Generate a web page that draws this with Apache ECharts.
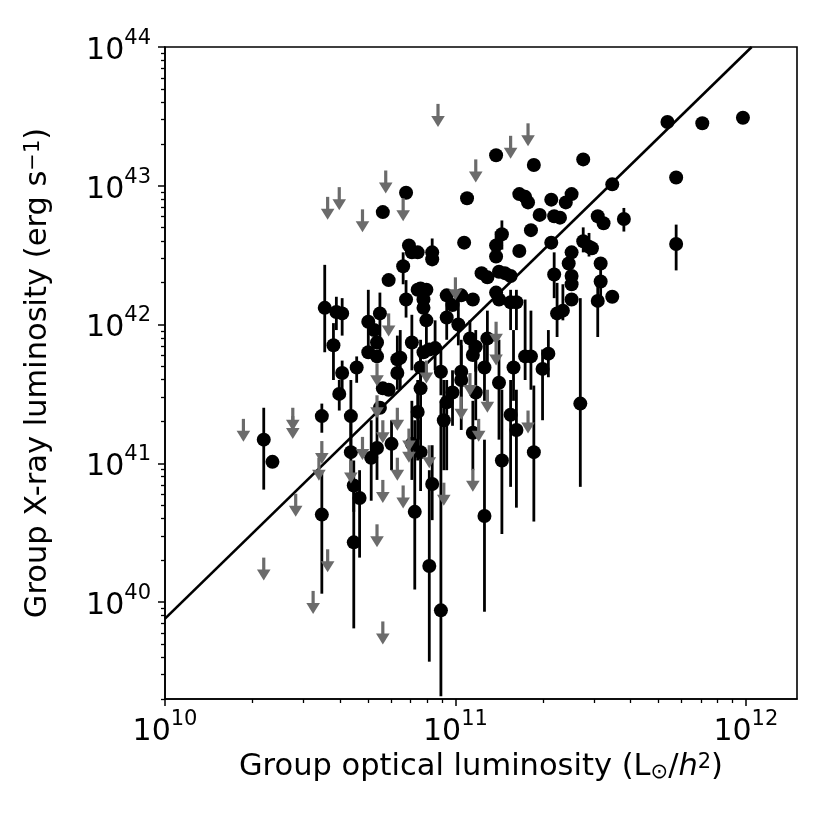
<!DOCTYPE html>
<html>
<head>
<meta charset="utf-8">
<script src="https://cdn.jsdelivr.net/npm/echarts@6/dist/echarts.min.js"></script>
<style>
  html, body { margin: 0; padding: 0; background: #fff; }
  #chart { width: 830px; height: 830px; }
</style>
</head>
<body>
<div id="chart"></div>
<script>
// detected groups: log10 of optical luminosity, X-ray luminosity and its error range
const detLogLopt = [
  11.99, 11.85, 11.73, 11.76, 11.54, 11.44, 11.40, 11.38, 11.36, 11.49,
  11.51, 11.58, 11.76, 11.44, 11.46, 11.47, 11.40, 11.39, 11.40, 11.50,
  11.50, 11.49, 11.54, 11.40, 11.14, 11.27, 11.04, 10.83, 10.75, 11.22,
  11.24, 11.25, 11.33, 11.29, 11.34, 11.26, 11.33, 11.03, 11.16, 11.14,
  11.14, 11.22, 10.84, 10.85, 10.87, 10.92, 10.92, 10.82, 10.77, 11.09,
  11.11, 11.15, 11.17, 11.19, 11.34, 11.40, 11.35, 11.37, 10.83, 10.88,
  10.90, 10.89, 10.89, 10.90, 10.97, 10.99, 10.97, 11.02, 11.06, 11.01,
  11.05, 11.07, 11.06, 11.11, 11.14, 11.15, 11.19, 11.21, 10.85, 10.89,
  10.91, 10.93, 10.81, 10.88, 10.95, 11.02, 11.02, 11.10, 11.15, 11.20,
  11.24, 11.26, 11.30, 11.32, 10.99, 10.97, 10.88, 10.87, 11.07, 11.19,
  11.21, 10.96, 11.06, 11.43, 11.27, 11.16, 10.85, 10.88, 10.92, 10.86,
  10.91, 10.95, 11.10, 10.34, 10.37, 10.54, 10.54, 10.55, 10.59, 10.61,
  10.58, 10.61, 10.60, 10.66, 10.64, 10.64, 10.65, 10.67, 10.65, 10.70,
  10.72, 10.74, 10.73, 10.70, 10.73, 10.80, 10.80, 10.75, 10.77, 10.74,
  10.78, 10.73, 10.71, 10.87
];
const detLogLx = [
  43.49, 43.45, 43.46, 43.06, 43.01, 43.19, 42.94, 42.88, 42.77, 42.78,
  42.73, 42.76, 42.58, 42.60, 42.56, 42.55, 42.52, 42.44, 42.35, 42.44,
  42.31, 42.17, 42.20, 42.18, 43.22, 43.15, 42.91, 42.95, 42.81, 42.94,
  42.92, 42.88, 42.90, 42.79, 42.78, 42.68, 42.59, 42.59, 42.65, 42.57,
  42.49, 42.53, 42.57, 42.52, 42.52, 42.52, 42.47, 42.42, 42.32, 42.37,
  42.34, 42.38, 42.37, 42.35, 42.36, 42.29, 42.08, 42.10, 42.18, 42.26,
  42.25, 42.18, 42.12, 42.03, 42.21, 42.14, 42.05, 42.21, 42.18, 42.00,
  41.90, 41.84, 41.78, 41.90, 42.23, 42.18, 42.16, 42.16, 41.87, 41.80,
  41.82, 41.83, 41.76, 41.69, 41.66, 41.66, 41.60, 41.69, 41.58, 41.69,
  41.77, 41.77, 41.68, 41.79, 41.51, 41.44, 41.54, 41.37, 41.51, 41.35,
  41.24, 41.31, 41.22, 41.43, 41.08, 41.02, 41.14, 41.08, 40.85, 40.65,
  40.26, 39.94, 40.62, 41.17, 41.01, 41.34, 40.63, 42.12, 42.09, 42.08,
  41.85, 41.65, 41.50, 41.69, 41.34, 41.08, 40.84, 40.75, 40.43, 42.02,
  41.96, 42.08, 41.87, 41.80, 41.77, 41.75, 41.65, 41.54, 41.53, 41.40,
  41.14, 41.11, 41.04, 42.25
];
const detLogLxLo = [
  null, null, null, null, null, null, null, null, null, null,
  null, 42.67, 42.39, 42.52, 42.49, null, null, null, null, null,
  42.18, 41.91, null, null, null, null, null, null, null, null,
  null, null, null, null, null, null, null, null, 42.54, 42.45,
  null, null, null, null, null, 42.42, null, 42.29, null, null,
  null, null, null, null, 42.19, null, 41.91, 42.03, 42.05, null,
  null, null, null, 41.85, null, null, 41.89, null, null, 41.85,
  41.74, 41.66, null, 41.67, null, null, 41.96, 41.96, 41.67, null,
  null, 41.67, 41.53, 41.49, 41.49, 41.38, 41.24, 41.45, 41.17, 41.45,
  41.60, 41.53, 41.31, 41.62, 41.27, 40.95, 41.17, 41.02, 41.31, 40.83,
  40.68, 40.95, 40.95, 40.83, 40.58, 40.49, 40.88, 40.80, 40.59, 40.09,
  39.57, 39.32, 39.93, 40.81, null, 41.22, 40.06, 41.80, 41.96, 41.92,
  41.60, 41.53, 41.38, 41.58, 41.12, 40.88, 40.65, 40.32, 39.81, 41.84,
  null, 41.76, null, null, null, 41.53, null, null, null, null,
  40.95, 40.88, 40.73, null
];
const detLogLxHi = [
  null, null, null, null, null, null, null, null, null, null,
  null, 42.84, 42.72, 42.70, 42.66, null, null, null, null, null,
  42.43, 42.31, null, null, null, null, null, null, null, null,
  null, null, null, null, null, null, null, null, 42.75, 42.67,
  null, null, null, null, null, 42.62, null, 42.52, null, null,
  null, null, null, null, 42.52, null, 42.30, 42.29, 42.32, null,
  null, null, null, 42.18, null, null, 42.21, null, null, 42.18,
  42.03, 41.96, null, 42.10, null, null, 42.25, 42.25, 42.07, null,
  null, 42.03, 41.96, 41.89, 41.82, 41.85, 41.89, 41.89, 41.89, 41.96,
  42.18, 42.10, 41.82, 41.96, 41.67, 41.60, 41.82, 41.60, 41.74, 41.60,
  41.53, 41.60, 41.45, 42.19, 41.56, 41.53, 41.45, 41.31, 41.13, 41.31,
  40.95, 41.45, 41.17, 41.40, null, 41.43, 40.95, 42.43, 42.20, 42.19,
  42.01, 41.74, 41.60, 41.77, 41.60, 41.31, 41.02, 40.95, 40.88, 42.25,
  null, 42.23, null, null, null, 41.92, null, null, null, null,
  41.31, 41.35, 41.31, null
];

// upper limits (grey arrows): log10 optical luminosity, log10 X-ray limit
const limLogLopt = [
  10.27, 10.44, 10.44, 10.45, 10.34, 10.51, 10.56, 10.54, 10.53, 10.75,
  10.73, 10.75, 10.82, 10.96, 11.06, 10.91, 10.84, 10.77, 10.73, 10.73,
  10.80, 10.75, 10.68, 10.64, 10.80, 10.84, 11.00, 11.14, 11.14, 10.90,
  11.05, 11.02, 11.11, 11.08, 11.25, 10.76, 10.60, 10.56, 10.68, 10.82,
  10.94, 11.07, 11.19, 11.25
];
const limLogLx = [
  41.32, 41.40, 41.34, 40.78, 40.32, 40.08, 40.38, 41.16, 41.04, 39.86,
  40.56, 40.88, 40.84, 40.86, 40.96, 41.13, 41.17, 42.08, 41.72, 41.49,
  41.40, 41.31, 41.19, 41.02, 41.04, 41.25, 42.34, 42.02, 41.87, 41.74,
  41.65, 41.48, 41.53, 41.32, 41.38, 43.11, 42.99, 42.92, 42.83, 42.91,
  43.59, 43.19, 43.36, 43.45
];

// fitted relation, end points (log10)
const fitLogLopt = [10.0, 12.02];
const fitLogLx = [39.88, 44.0];

// axes
const xRange = [1e10, 1.5e12];
const yRange = [2e39, 1e44];
const xMajorTicks = [1e10, 1e11, 1e12];
const yMajorTicks = [1e40, 1e41, 1e42, 1e43, 1e44];
const minorMantissas = [2, 3, 4, 5, 6, 7, 8, 9];
const xDecades = [1e10, 1e11, 1e12];
const yDecades = [1e39, 1e40, 1e41, 1e42, 1e43];

// minor tick positions, as log10 values for the helper (linear) axes
const minorTicksLog = (decades, range) => {
  const out = [];
  decades.forEach(d => minorMantissas.forEach(m => {
    const v = m * d;
    if (v >= range[0] && v <= range[1]) out.push(Math.log10(v));
  }));
  return out;
};

const FONT = 'DejaVu Sans';
const GREY = '#6b6b6b';

const pts = detLogLopt.map((x, i) => [Math.pow(10, x), Math.pow(10, detLogLx[i])]);
const bars = [];
detLogLopt.forEach((x, i) => {
  if (detLogLxLo[i] !== null) {
    bars.push([Math.pow(10, x), Math.pow(10, detLogLxLo[i]), Math.pow(10, detLogLxHi[i])]);
  }
});
const lims = limLogLopt.map((x, i) => [Math.pow(10, x), Math.pow(10, limLogLx[i])]);
const fit = fitLogLopt.map((x, i) => [Math.pow(10, x), Math.pow(10, fitLogLx[i])]);

const powLabel = v => '{b|10}{e|' + Math.round(Math.log10(v)) + '}';
const tickRich = {
  b: { fontFamily: FONT, fontSize: 30, color: '#000', padding: [8, 0, 0, 0] },
  e: { fontFamily: FONT, fontSize: 21, color: '#000', verticalAlign: 'top' }
};
const nameRich = {
  n: { fontFamily: FONT, fontSize: 30.5, color: '#000' },
  i: { fontFamily: FONT, fontSize: 30.5, color: '#000', fontStyle: 'italic' },
  sup: { fontFamily: FONT, fontSize: 21, color: '#000', verticalAlign: 'top' },
  sub: { fontFamily: FONT, fontSize: 21, color: '#000', verticalAlign: 'bottom' }
};

const gridBox = { left: 165, right: 33, top: 47, bottom: 131 };
const ec = echarts.init(document.getElementById('chart'));

// second, identical grid in log10 units whose axes only carry the minor ticks
const minorAxis = (range, decades, pos) => {
  const ticks = minorTicksLog(decades, range);
  return {
    type: 'value', gridIndex: 1, position: pos,
    min: Math.log10(range[0]), max: Math.log10(range[1]),
    axisLine: { show: false },
    axisTick: { show: true, customValues: ticks, length: 4, lineStyle: { color: '#000', width: 1.3 } },
    axisLabel: { show: true, customValues: ticks, formatter: () => '' },
    splitLine: { show: false }
  };
};

ec.setOption({
  animation: false,
  backgroundColor: '#fff',
  grid: [
    Object.assign({ show: true, borderColor: '#000', borderWidth: 1.6, outerBoundsMode: 'none' }, gridBox),
    Object.assign({ show: false, outerBoundsMode: 'none' }, gridBox)
  ],
  xAxis: [
    {
      type: 'log', logBase: 10, gridIndex: 0, min: xRange[0], max: xRange[1],
      axisLine: { show: true, lineStyle: { color: '#000', width: 1.6 } },
      axisTick: { show: true, customValues: xMajorTicks, length: 7, lineStyle: { color: '#000', width: 1.5 } },
      axisLabel: { customValues: xMajorTicks, formatter: powLabel, rich: tickRich, margin: 10 },
      splitLine: { show: false },
      name: '{n|Group optical luminosity (L}{sub|⊙}{n|/}{i|h}{sup|2}{n|)}',
      nameLocation: 'middle', nameGap: 50,
      nameTextStyle: { rich: nameRich }
    },
    minorAxis(xRange, xDecades, 'bottom')
  ],
  yAxis: [
    {
      type: 'log', logBase: 10, gridIndex: 0, min: yRange[0], max: yRange[1],
      axisLine: { show: true, lineStyle: { color: '#000', width: 1.6 } },
      axisTick: { show: true, customValues: yMajorTicks, length: 7, lineStyle: { color: '#000', width: 1.5 } },
      axisLabel: { customValues: yMajorTicks, formatter: powLabel, rich: tickRich, margin: 14 },
      splitLine: { show: false },
      name: '{n|Group X-ray luminosity (erg s}{sup|−1}{n|)}',
      nameLocation: 'middle', nameGap: 111,
      nameTextStyle: { rich: nameRich }
    },
    minorAxis(yRange, yDecades, 'left')
  ],
  series: [
    {
      type: 'line', data: fit, symbol: 'none', z: 2,
      lineStyle: { color: '#000', width: 2.6 }
    },
    {
      type: 'custom', data: bars, z: 3, encode: { x: 0, y: [1, 2] },
      renderItem: (params, api) => {
        const a = api.coord([api.value(0), api.value(1)]);
        const b = api.coord([api.value(0), api.value(2)]);
        return {
          type: 'line',
          shape: { x1: a[0], y1: a[1], x2: b[0], y2: b[1] },
          style: { stroke: '#000', lineWidth: 2.8 }
        };
      }
    },
    {
      type: 'scatter', data: pts, symbol: 'circle', symbolSize: 14, z: 4,
      itemStyle: { color: '#000', opacity: 1 }
    },
    {
      type: 'custom', data: lims, z: 5, encode: { x: 0, y: 1 },
      renderItem: (params, api) => {
        const p = api.coord([api.value(0), api.value(1)]);
        return {
          type: 'group',
          children: [
            { type: 'rect', shape: { x: p[0] - 1.6, y: p[1], width: 3.2, height: 14 }, style: { fill: GREY } },
            { type: 'polygon', shape: { points: [[p[0] - 6.8, p[1] + 12], [p[0] + 6.8, p[1] + 12], [p[0], p[1] + 23]] }, style: { fill: GREY } }
          ]
        };
      }
    }
  ]
});
</script>
</body>
</html>
